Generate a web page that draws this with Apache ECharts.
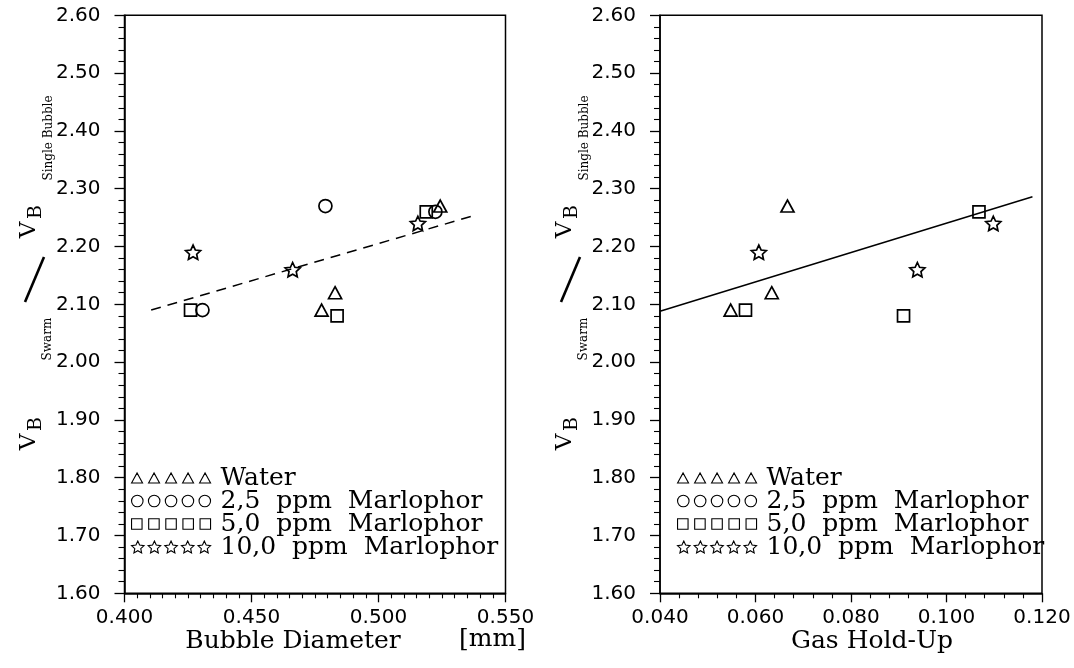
<!DOCTYPE html>
<html>
<head>
<meta charset="utf-8">
<script src="https://cdn.jsdelivr.net/npm/echarts@6/dist/echarts.min.js"></script>
<style>html,body{margin:0;padding:0;background:#fff}#c{width:1074px;height:668px}</style>
</head>
<body>
<div id="c"></div>
<script>
// ---- data ----
const seriesNames = ['Water', '2,5 ppm Marlophor', '5,0 ppm Marlophor', '10,0 ppm Marlophor'];

// Left panel: x = bubble diameter [mm], y = V_B swarm / V_B single bubble
const diamWater   = [[0.4776, 2.09], [0.4829, 2.12], [0.5243, 2.27]];
const diamMarl25  = [[0.4307, 2.09], [0.4791, 2.27], [0.5224, 2.26]];
const diamMarl50  = [[0.4260, 2.09], [0.4837, 2.08], [0.5188, 2.26]];
const diamMarl100 = [[0.4270, 2.19], [0.4662, 2.16], [0.5155, 2.24]];
const diamFit     = [[0.4105, 2.090], [0.5372, 2.253]];

// Right panel: x = gas hold-up
const holdWater   = [[0.0548, 2.09], [0.0634, 2.12], [0.0667, 2.27]];
const holdMarl50  = [[0.0579, 2.09], [0.0910, 2.08], [0.1068, 2.26]];
const holdMarl100 = [[0.0607, 2.19], [0.0939, 2.16], [0.1098, 2.24]];
const holdFit     = [[0.0400, 2.088], [0.1180, 2.286]];

// axes
const yMin = 1.6, yMax = 2.6, yStep = 0.1;
const diamMin = 0.40, diamMax = 0.55, diamStep = 0.05;
const holdMin = 0.04, holdMax = 0.12, holdStep = 0.02;

// ---- symbol paths ----
function starPts(cx, cy, R, r) {
  let d = '';
  for (let i = 0; i < 10; i++) {
    const a = (-90 + 36 * i) * Math.PI / 180;
    const rr = i % 2 ? r : R;
    d += (i ? 'L' : 'M') + (cx + rr * Math.cos(a)).toFixed(2) + ',' + (cy + rr * Math.sin(a)).toFixed(2) + ' ';
  }
  return d + 'Z ';
}
const STAR = 'path://' + starPts(50, 50, 50, 24);
function rowPath(kind) {
  let d = '';
  for (let i = 0; i < 5; i++) {
    if (kind === 'tri') { const x = 17 * i; d += `M${x},10 L${x + 5.5},0 L${x + 11},10 Z `; }
    if (kind === 'cir') { const r = 5.75, cx = 5.75 + 16.875 * i, cy = 5.75; d += `M${cx + r},${cy} A${r},${r} 0 1 0 ${cx - r},${cy} A${r},${r} 0 1 0 ${cx + r},${cy} Z `; }
    if (kind === 'sq')  { const x = 17.125 * i; d += `M${x},0.5 L${x + 10.5},0.5 L${x + 10.5},11 L${x},11 Z `; }
    if (kind === 'star') { d += starPts(6.5 + 16.5 * i, 6.5, 6.5, 3.1); }
  }
  return 'path://' + d;
}
const legendIcons = [rowPath('tri'), rowPath('cir'), rowPath('sq'), rowPath('star')];
const symbols = ['triangle', 'circle', 'rect', STAR];
const symSizes = [[13, 12], 13, 12, 15];

const chart = echarts.init(document.getElementById('c'), null, { renderer: 'canvas' });

const tickFont = { fontFamily: 'DejaVu Sans', fontSize: 20, color: '#000' };
function xAxis(gi, min, max, step, dec, minorSplit) {
  return {
    type: 'value', gridIndex: gi, min, max, interval: step,
    axisLine: { show: true, onZero: false, lineStyle: { color: '#000', width: 1.5 } },
    axisTick: { show: true, inside: false, length: 9, lineStyle: { color: '#000', width: 1.3 } },
    minorTick: { show: true, splitNumber: minorSplit, length: 5, lineStyle: { color: '#000', width: 1.1 } },
    splitLine: { show: false }, minorSplitLine: { show: false },
    axisLabel: Object.assign({ margin: 14, showMinLabel: true, showMaxLabel: true, hideOverlap: false,
      formatter: v => v.toFixed(dec) }, tickFont)
  };
}
function yAxis(gi) {
  return {
    type: 'value', gridIndex: gi, min: yMin, max: yMax, interval: yStep,
    axisLine: { show: true, onZero: false, lineStyle: { color: '#000', width: 1.5 } },
    axisTick: { show: true, inside: false, length: 10, lineStyle: { color: '#000', width: 1.3 } },
    minorTick: { show: true, splitNumber: 5, length: 6, lineStyle: { color: '#000', width: 1.1 } },
    splitLine: { show: false }, minorSplitLine: { show: false },
    axisLabel: Object.assign({ margin: 24, showMinLabel: true, showMaxLabel: true, hideOverlap: false,
      formatter: v => v.toFixed(2) }, tickFont)
  };
}
function scatter(name, idx, gi, data) {
  return {
    type: 'scatter', name, xAxisIndex: gi, yAxisIndex: gi, data,
    symbol: symbols[idx], symbolSize: symSizes[idx], symbolKeepAspect: true,
    itemStyle: { color: 'rgba(0,0,0,0)', borderColor: '#000', borderWidth: 1.7, opacity: 1 },
    emphasis: { disabled: true }, z: 3
  };
}
function legend(left) {
  return {
    orient: 'vertical', left, top: 465.5, padding: 0, itemGap: -2,
    itemWidth: 79, itemHeight: 12, symbolKeepAspect: true,
    data: seriesNames.map((n, i) => ({ name: n, icon: legendIcons[i] })),
    itemStyle: { color: 'rgba(0,0,0,0)', borderColor: '#000', borderWidth: 1.1 },
    formatter: n => n.replace(/ /g, '  '),
    textStyle: { fontFamily: 'DejaVu Serif', fontSize: 25, color: '#000', lineHeight: 23, padding: [0, 0, 0, 5] },
    selectedMode: false
  };
}

function yLabel(dx) {
  const serif = 'DejaVu Serif';
  const t = (text, x, y, size) => ({
    type: 'text', x: x + dx, y, rotation: Math.PI / 2, silent: true,
    style: { text, font: `${size}px "${serif}"`, fill: '#000', align: 'center', verticalAlign: 'middle' }
  });
  return [
    t('V', 29, 442, 23), t('B', 36, 424, 19),
    t('Swarm', 48, 339, 12),
    { type: 'line', silent: true, shape: { x1: 25 + dx, y1: 302, x2: 44 + dx, y2: 257 }, style: { stroke: '#000', lineWidth: 2.6 } },
    t('V', 29, 230, 23), t('B', 36, 212, 19),
    t('Single Bubble', 49, 138, 12)
  ];
}
const nameFont = '25px "DejaVu Serif"';
const graphics = [].concat(yLabel(0), yLabel(536), [
  { type: 'text', x: 293, y: 641, silent: true, style: { text: 'Bubble Diameter', font: nameFont, fill: '#000', align: 'center', verticalAlign: 'middle' } },
  { type: 'text', x: 459, y: 639, silent: true, style: { text: '[mm]', font: '25px "DejaVu Serif"', fill: '#000', align: 'left', verticalAlign: 'middle' } },
  { type: 'text', x: 872, y: 641, silent: true, style: { text: 'Gas Hold-Up', font: nameFont, fill: '#000', align: 'center', verticalAlign: 'middle' } }
]);

chart.setOption({
  animation: false,
  backgroundColor: '#fff',
  grid: [
    { left: 124.5, top: 15.3, width: 381, height: 578, show: true, borderColor: '#000', borderWidth: 1.5, backgroundColor: 'transparent', outerBoundsMode: 'none', containLabel: false },
    { left: 660, top: 15.3, width: 382, height: 578, show: true, borderColor: '#000', borderWidth: 1.5, backgroundColor: 'transparent', outerBoundsMode: 'none', containLabel: false }
  ],
  xAxis: [xAxis(0, diamMin, diamMax, diamStep, 3, 10), xAxis(1, holdMin, holdMax, holdStep, 3, 5)],
  yAxis: [yAxis(0), yAxis(1)],
  legend: [legend(131), legend(677)],
  graphic: graphics,
  series: [
    scatter(seriesNames[0], 0, 0, diamWater),
    scatter(seriesNames[1], 1, 0, diamMarl25),
    scatter(seriesNames[2], 2, 0, diamMarl50),
    scatter(seriesNames[3], 3, 0, diamMarl100),
    { type: 'line', xAxisIndex: 0, yAxisIndex: 0, data: diamFit, symbol: 'none', silent: true,
      lineStyle: { color: '#000', width: 1.5, type: [10, 7] }, z: 2 },
    scatter(seriesNames[0], 0, 1, holdWater),
    scatter(seriesNames[2], 2, 1, holdMarl50),
    scatter(seriesNames[3], 3, 1, holdMarl100),
    { type: 'line', xAxisIndex: 1, yAxisIndex: 1, data: holdFit, symbol: 'none', silent: true,
      lineStyle: { color: '#000', width: 1.5, type: 'solid' }, z: 2 }
  ]
});
</script>
</body>
</html>
